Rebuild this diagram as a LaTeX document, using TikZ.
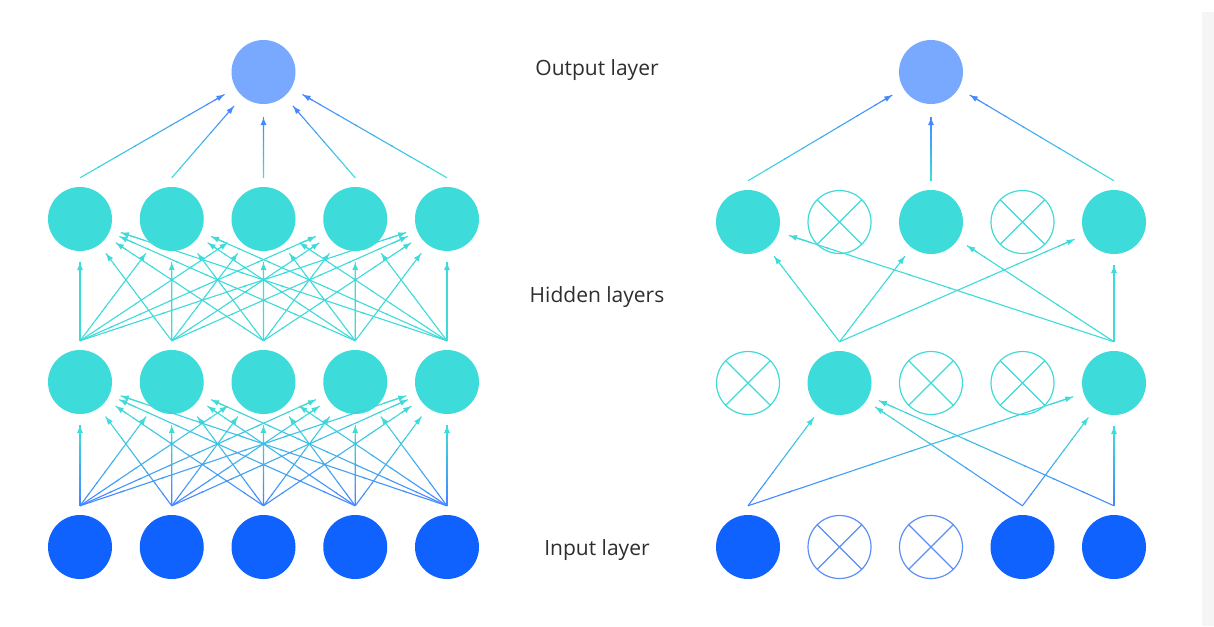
\documentclass[tikz,border=0pt]{standalone}
\usepackage{fontspec}
\setmainfont{Open Sans}
\usetikzlibrary{calc,arrows.meta}
\definecolor{tealc}{HTML}{3DDBD9}
\definecolor{bluein}{HTML}{0F62FE}
\definecolor{blueout}{HTML}{78A9FF}
\definecolor{bluel}{HTML}{4589FF}
\definecolor{bluedrop}{HTML}{5B8FF5}
\definecolor{txt}{HTML}{2E2E2E}
\newcommand{\gconn}[5]{%
  \path ($(#1.north)+(0,-9)$) coordinate (gS);
  \path ($(#2)!#5!(gS)$) coordinate (gE);
  \foreach \k in {0,...,7}{%
    \pgfmathsetmacro{\ga}{\k/8}%
    \pgfmathsetmacro{\gb}{min((\k+1)/8+0.01,1)}%
    \pgfmathtruncatemacro{\gp}{100-\k*100/7}%
    \draw[line width=1.1pt, color=#3!\gp!#4] ($(gS)!\ga!(gE)$) -- ($(gS)!\gb!(gE)$);
  }%
  \draw[-{Latex[length=8pt,width=6pt]}, line width=1.1pt, #4] ($(gS)!0.93!(gE)$) -- (gE);
}
\tikzset{
  neuron/.style={circle, minimum size=64pt, inner sep=0pt},
  inputnode/.style={neuron, fill=bluein},
  hiddennode/.style={neuron, fill=tealc},
  outputnode/.style={neuron, fill=blueout},
  dropnode/.style={neuron, minimum size=63pt, draw=#1, line width=1.2pt,
    path picture={\draw[#1, line width=1.2pt]
      (path picture bounding box.north east) -- (path picture bounding box.south west)
      (path picture bounding box.north west) -- (path picture bounding box.south east);}},
  label/.style={font=\fontsize{21}{25}\selectfont, text=txt}
}
\begin{document}
\begin{tikzpicture}[x=1pt,y=-1pt]
\useasboundingbox (0,0) rectangle (1214,626);
\fill[white] (0,0) rectangle (1214,626);
\fill[black!4] (1202,12) rectangle (1214,626);

% ---- left network ----
\node[outputnode] (Lo) at (263.5,72) {};
\foreach \i in {1,...,5}{
  \pgfmathsetmacro{\xx}{80+91.75*(\i-1)}
  \node[hiddennode] (Lh2-\i) at (\xx,219) {};
  \node[hiddennode] (Lh1-\i) at (\xx,382) {};
  \node[inputnode] (Li-\i) at (\xx,547) {};
}
\foreach \s in {1,...,5}{
  \foreach \t in {1,...,5}{
    \gconn{Li-\s}{Lh1-\t}{bluel}{tealc}{43pt}
    \gconn{Lh1-\s}{Lh2-\t}{tealc}{tealc}{43pt}
  }
  \gconn{Lh2-\s}{Lo}{tealc}{bluel}{45pt}
}

% ---- right network ----
\node[outputnode] (Ro) at (931,72) {};
\node[hiddennode] (Rh2-1) at (748,222) {};
\node[dropnode=tealc] (Rh2-2) at (839.5,222) {};
\node[hiddennode] (Rh2-3) at (931,222) {};
\node[dropnode=tealc] (Rh2-4) at (1022.5,222) {};
\node[hiddennode] (Rh2-5) at (1114,222) {};

\node[dropnode=tealc] (Rh1-1) at (748,383) {};
\node[hiddennode] (Rh1-2) at (839.5,383) {};
\node[dropnode=tealc] (Rh1-3) at (931,383) {};
\node[dropnode=tealc] (Rh1-4) at (1022.5,383) {};
\node[hiddennode] (Rh1-5) at (1114,383) {};

\node[inputnode] (Ri-1) at (748,547) {};
\node[dropnode=bluedrop] (Ri-2) at (839.5,547) {};
\node[dropnode=bluedrop] (Ri-3) at (931,547) {};
\node[inputnode] (Ri-4) at (1022.5,547) {};
\node[inputnode] (Ri-5) at (1114,547) {};

\foreach \s in {1,4,5}{
  \foreach \t in {2,5}{
    \gconn{Ri-\s}{Rh1-\t}{bluel}{tealc}{43pt}
  }
}
\foreach \s in {2,5}{
  \foreach \t in {1,3,5}{
    \gconn{Rh1-\s}{Rh2-\t}{tealc}{tealc}{43pt}
  }
}
\foreach \s in {1,3,5}{
  \gconn{Rh2-\s}{Ro}{tealc}{bluel}{45pt}
}

% ---- labels ----
\node[label] (tOut) at (597,70) {Output layer};
\node[label] (tHid) at (597,297) {Hidden layers};
\node[label] (tIn) at (597,550) {Input layer};
\end{tikzpicture}
\end{document}
